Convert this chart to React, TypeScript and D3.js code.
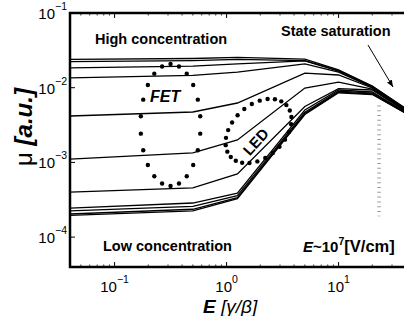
import React from 'react';
import * as d3 from 'd3';

// field grid (E in units of gamma/beta)
const eGrid = [0.04, 0.5, 1.25, 5, 10, 20, 50];

// mobility curves, high to low concentration
const mu01 = [0.0239, 0.0246, 0.0254, 0.0242, 0.0173, 0.0105, 0.00418];
const mu02 = [0.0224, 0.0231, 0.0239, 0.0231, 0.0170, 0.0104, 0.00412];
const mu03 = [0.0184, 0.0195, 0.0208, 0.0228, 0.0167, 0.0102, 0.00405];
const mu04 = [0.0135, 0.0146, 0.0162, 0.0208, 0.0162, 0.0101, 0.00405];
const mu05 = [0.00418, 0.00473, 0.00624, 0.0157, 0.0148, 0.00991, 0.00399];
const mu06 = [0.00111, 0.00134, 0.0020, 0.00991, 0.0119, 0.00961, 0.00393];
const mu07 = [0.000401, 0.000455, 0.000700, 0.00560, 0.00970, 0.00932, 0.00387];
const mu08 = [0.000245, 0.000286, 0.000389, 0.00503, 0.00932, 0.00876, 0.00381];
const mu09 = [0.000224, 0.000258, 0.000360, 0.00470, 0.00900, 0.00849, 0.00381];
const mu10 = [0.000204, 0.000236, 0.000338, 0.00450, 0.00870, 0.00824, 0.00375];
const mu11 = [0.000195, 0.000225, 0.000328, 0.00438, 0.00855, 0.0081, 0.00375];
const curves = [mu01, mu02, mu03, mu04, mu05, mu06, mu07, mu08, mu09, mu10, mu11];

const xTicks = [0.1, 1, 10];
const xTickExp = ['\u22121', '0', '1'];
const yTicks = [1e-4, 1e-3, 1e-2, 1e-1];
const yTickExp = ['\u22124', '\u22123', '\u22122', '\u22121'];

// annotation anchors (data coords)
const fetCenter = [0.316, 0.00317];
const ledCenter = [1.93, 0.00263];
const satE = 23;
const satRange = [0.0058, 0.00019];

const x = d3.scaleLog().domain([0.04, 40]).range([70, 406]);
const y = d3.scaleLog().domain([Math.pow(10, -4.4), 0.1]).range([267, 13]);

const FONT = 'Liberation Sans, Arial, Helvetica, sans-serif';

function dotRing(cx: number, cy: number, rx: number, ry: number, n: number, rot: number) {
  const r = (rot * Math.PI) / 180;
  return d3.range(n).map(i => {
    const t = -Math.PI / 2 + (i * 2 * Math.PI) / n;
    const px = rx * Math.cos(t);
    const py = ry * Math.sin(t);
    return [cx + px * Math.cos(r) - py * Math.sin(r), cy + px * Math.sin(r) + py * Math.cos(r)];
  });
}

export default function App() {
  const line = d3
    .line<number>()
    .x((_, i) => x(eGrid[i]))
    .y(d => y(d));

  const minor: number[] = [];
  for (let p = -2; p <= 1; p++) {
    for (let k = 2; k <= 9; k++) {
      const v = k * Math.pow(10, p);
      if (v > 0.04 && v < 40) minor.push(v);
    }
  }

  const fet = dotRing(x(fetCenter[0]), y(fetCenter[1]), 30, 61, 22, 0);
  const led = dotRing(x(ledCenter[0]), y(ledCenter[1]), 26, 38, 26, -43 + 90);

  return (
    <svg width={404} height={316} style={{ position: 'absolute', left: 0, top: 0 }} fontFamily={FONT}>
      <defs>
        <clipPath id="plot">
          <rect x={70} y={13} width={336} height={254} />
        </clipPath>
        <marker id="arr" viewBox="0 0 10 10" refX={10} refY={5} markerWidth={7} markerHeight={7} orient="auto">
          <path d="M0,1 L10,5 L0,9 z" fill="#000" />
        </marker>
      </defs>

      <g clipPath="url(#plot)">
        {curves.map((c, i) => (
          <path key={i} d={line(c) || ''} fill="none" stroke="#000" strokeWidth={1.3} />
        ))}
      </g>

      {fet.map((p, i) => (
        <circle key={'f' + i} cx={p[0]} cy={p[1]} r={2.2} fill="#000" />
      ))}
      {led.map((p, i) => (
        <circle key={'l' + i} cx={p[0]} cy={p[1]} r={2.2} fill="#000" />
      ))}

      <line x1={x(satE)} x2={x(satE)} y1={y(satRange[0])} y2={y(satRange[1])}
        stroke="#999" strokeWidth={3.5} strokeDasharray="1 3.8" />

      {/* frame */}
      <rect x={70} y={13} width={336} height={254} fill="none" stroke="#000" strokeWidth={2.5} />

      {/* x ticks */}
      {xTicks.map((t, i) => (
        <g key={'xt' + i}>
          <line x1={x(t)} x2={x(t)} y1={267} y2={262} stroke="#000" strokeWidth={1} />
          <line x1={x(t)} x2={x(t)} y1={13} y2={18} stroke="#000" strokeWidth={1} />
          <text x={x(t)} y={292} textAnchor="middle" fontSize={15}>
            10<tspan dy={-9} fontSize={10.5}>{xTickExp[i]}</tspan>
          </text>
        </g>
      ))}
      {minor.map((t, i) => (
        <g key={'xm' + i}>
          <line x1={x(t)} x2={x(t)} y1={267} y2={264.5} stroke="#000" strokeWidth={0.8} />
          <line x1={x(t)} x2={x(t)} y1={13} y2={15.5} stroke="#000" strokeWidth={0.8} />
        </g>
      ))}

      {/* y ticks */}
      {yTicks.map((t, i) => (
        <g key={'yt' + i}>
          <line x1={70} x2={75} y1={y(t)} y2={y(t)} stroke="#000" strokeWidth={1} />
          <text x={67} y={y(t) + 6} textAnchor="end" fontSize={15}>
            10<tspan dy={-9} fontSize={10.5}>{yTickExp[i]}</tspan>
          </text>
        </g>
      ))}

      {/* axis labels */}
      <text transform="translate(32,127) rotate(-90)" textAnchor="middle" fontSize={24}>
        <tspan>{'\u03bc '}</tspan>
        <tspan fontWeight="bold" fontStyle="italic">[a.u.]</tspan>
      </text>
      <text x={203} y={313} fontSize={19}>
        <tspan fontWeight="bold" fontStyle="italic">E</tspan>
        <tspan fontStyle="italic">{' [\u03b3/\u03b2]'}</tspan>
      </text>

      {/* annotations */}
      <text x={95} y={44} fontSize={14.5} fontWeight="bold">High concentration</text>
      <text x={281} y={36} fontSize={14.5} fontWeight="bold">State saturation</text>
      <text x={103} y={251} fontSize={14.5} fontWeight="bold">Low concentration</text>
      <text x={303} y={252} fontSize={15} fontWeight="bold">
        <tspan fontStyle="italic">E</tspan>~10<tspan dy={-7} fontSize={10.5}>7</tspan>
        <tspan dy={7} fontSize={16.5}>[V/cm]</tspan>
      </text>
      <text x={150} y={102} fontSize={16} fontWeight="bold" fontStyle="italic">FET</text>
      <text transform="translate(256,142) rotate(-48)" textAnchor="middle" dy={5} fontSize={15} fontWeight="bold">LED</text>

      <line x1={368} y1={45} x2={393} y2={87} stroke="#000" strokeWidth={1} markerEnd="url(#arr)" />
    </svg>
  );
}
